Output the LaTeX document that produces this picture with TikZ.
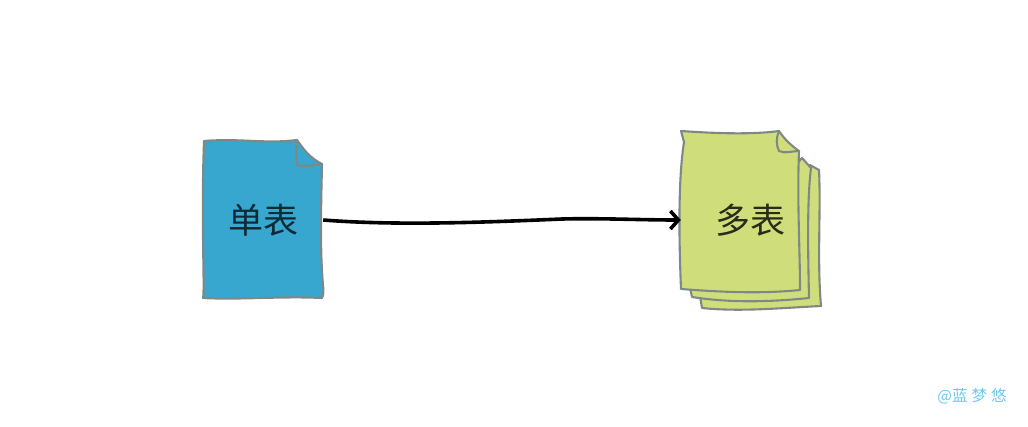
\documentclass[tikz,border=0pt]{standalone}
\usepackage{fontspec}
\setmainfont{Noto Sans CJK SC}
\usetikzlibrary{arrows.meta}
\definecolor{sheetblue}{HTML}{38A7D0}
\definecolor{sheetgreen}{HTML}{CFDE7B}
\definecolor{sheetedge}{HTML}{7F8886}
\definecolor{markcyan}{HTML}{6CC8EC}
\tikzset{
  sheet/.style={draw=sheetedge, line width=2.1pt, line join=round},
  doclabel/.style={inner sep=0pt, font=\fontsize{35}{35}\selectfont},
}
\begin{document}
\begin{tikzpicture}[x=1pt, y=-1pt, >={Straight Barb[length=8pt,width=18pt]}]
  \useasboundingbox (0,0) rectangle (1028,426);

  % Single sheet
  \filldraw[sheet, fill=sheetblue] (204,141) .. controls (240,138) and (265,144) .. (297,140)
    .. controls (304,150) and (310,158) .. (322,164)
    .. controls (321,210) and (320,250) .. (323,285) .. controls (324,292) and (323,296) .. (322,298)
    .. controls (280,296) and (240,300) .. (203,298)
    .. controls (205,290) and (201,220) .. (204,141) -- cycle;
  \draw[sheet] (297,140) .. controls (296,150) and (296,158) .. (297,165) .. controls (305,167) and (314,165) .. (322,164);

  % Three sheets, back one first
  \filldraw[sheet, fill=sheetgreen] (700,296) -- (702,308) .. controls (740,312) and (780,308) .. (821,306)
    .. controls (817,260) and (821,210) .. (819,170) -- (810,165) -- cycle;
  \filldraw[sheet, fill=sheetgreen] (690,288) -- (692,297) .. controls (730,303) and (770,302) .. (809,298)
    .. controls (808,250) and (807,200) .. (811,168) -- (802,158) -- cycle;
  \filldraw[sheet, fill=sheetgreen] (681,131) .. controls (710,133) and (750,135) .. (779,131)
    .. controls (785,140) and (792,146) .. (799,151)
    .. controls (797,200) and (800,250) .. (800,290)
    .. controls (760,294) and (720,292) .. (681,289)
    .. controls (679,240) and (678,180) .. (684,142) -- cycle;
  \draw[sheet] (779,131) .. controls (776,138) and (776,145) .. (779,151) .. controls (785,154) and (792,151) .. (799,151);

  % Labels
  \node[doclabel, text=black!75!sheetblue, minimum width=120pt, minimum height=158pt] (single) at (263,220) {单表};
  \node[doclabel, text=black!80!sheetgreen, minimum width=138pt, minimum height=158pt] (multi) at (750,220) {多表};
  \node[inner sep=0pt, text=markcyan, font=\fontsize{15.5}{15.5}\selectfont] (mark) at (972,396) {@蓝\hspace{4pt}梦\hspace{4pt}悠};

  % Connector
  \draw[->, line width=3.6pt] (single.east) .. controls (400,226) and (490,222) .. (562,219)
    .. controls (600,218) and (640,220) .. (multi.west);
\end{tikzpicture}
\end{document}
